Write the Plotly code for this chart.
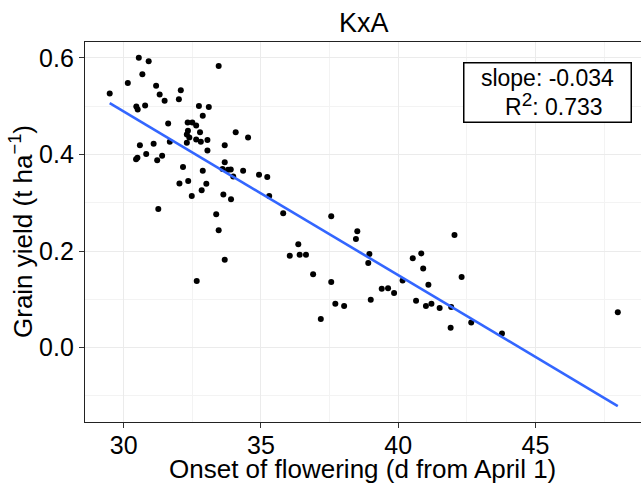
import plotly.graph_objects as go

# Onset of flowering (d from April 1) and grain yield (t ha-1)
onset = [29.49, 30.55, 30.91, 30.68, 30.15, 33.46, 31.18, 32.08, 31.31, 31.49,
         32.01, 30.46, 30.51, 30.78, 32.74, 33.10, 32.88, 31.62, 32.33, 32.50,
         32.64, 32.34, 32.78, 32.30, 34.08, 34.53, 32.39, 32.64, 32.81, 33.05,
         31.68, 32.30, 31.09, 30.59, 33.68, 33.05, 30.82, 31.40, 30.50, 30.45,
         31.22, 32.16, 33.68, 32.88, 33.60, 33.80, 33.90, 34.35,
         33.99, 34.93, 35.23, 32.03, 32.35, 33.01, 32.84, 32.48, 33.63, 33.91,
         31.26, 33.37, 33.46, 33.68, 32.66,
         35.30, 35.81, 37.56, 38.51, 38.46, 36.36, 36.05, 36.41, 36.64, 38.95,
         38.91, 36.90, 37.56, 40.53, 40.84, 40.91, 40.16, 41.10, 39.40, 39.63,
         39.85, 39.00, 37.71, 38.03, 40.65, 41.01, 41.21, 41.51, 41.93, 42.05,
         42.31, 37.18,
         41.91, 42.66, 43.78, 48.00]
grain_yield = [0.526, 0.600, 0.593, 0.566, 0.548, 0.583, 0.542, 0.533, 0.524, 0.511,
               0.514, 0.499, 0.493, 0.501, 0.500, 0.498, 0.480, 0.464, 0.466, 0.466,
               0.460, 0.449, 0.446, 0.441, 0.446, 0.435, 0.435, 0.431, 0.426, 0.430,
               0.426, 0.424, 0.422, 0.419, 0.419, 0.408, 0.401, 0.397, 0.393, 0.390,
               0.388, 0.374, 0.384, 0.366, 0.370, 0.368, 0.369, 0.366,
               0.354, 0.358, 0.353, 0.340, 0.345, 0.339, 0.326, 0.314, 0.317, 0.307,
               0.287, 0.276, 0.243, 0.182, 0.138,
               0.314, 0.278, 0.272, 0.241, 0.225, 0.214, 0.190, 0.192, 0.192, 0.194,
               0.175, 0.152, 0.136, 0.185, 0.195, 0.164, 0.139, 0.130, 0.122, 0.123,
               0.113, 0.099, 0.091, 0.086, 0.097, 0.086, 0.091, 0.082, 0.084, 0.233,
               0.146, 0.059,
               0.041, 0.052, 0.029, 0.073]

# Fitted regression line end points
fit_x = [29.49, 48.0]
fit_y = [0.506, -0.121]

slope_label = "-0.034"
r2_label = "0.733"

x_ticks = [30, 35, 40, 45]
y_ticks = [0.0, 0.2, 0.4, 0.6]
y_ticktext = ["0.0", "0.2", "0.4", "0.6"]

FONT = "Liberation Sans, Arial, sans-serif"
W, H = 641, 485
L, R, T, B = 85, 0, 42, 63
PW, PH = W - L - R, H - T - B

fig = go.Figure()
fig.add_trace(go.Scatter(x=onset, y=grain_yield, mode="markers",
                         marker=dict(color="black", size=6), showlegend=False))
fig.add_trace(go.Scatter(x=fit_x, y=fit_y, mode="lines",
                         line=dict(color="#3366FF", width=2.6), showlegend=False))

fig.update_layout(
    width=W, height=H,
    margin=dict(l=L, r=R, t=T, b=B, pad=0),
    plot_bgcolor="white", paper_bgcolor="white",
    font=dict(family=FONT, color="black"),
    xaxis=dict(range=[28.59, 48.845], tickmode="array", tickvals=x_ticks,
               tickfont=dict(size=25, color="black"),
               showgrid=True, gridcolor="#EBEBEB", gridwidth=1,
               minor=dict(showgrid=True, gridcolor="#F3F3F3", gridwidth=0.6,
                          dtick=2.5, tick0=0),
               showline=True, linecolor="#222222", linewidth=1.3, mirror=True,
               ticks="outside", ticklen=5, tickcolor="#333333", tickwidth=1.1,
               ticklabelstandoff=-4,
               zeroline=False, automargin=False),
    yaxis=dict(range=[-0.154, 0.6327], tickmode="array", tickvals=y_ticks,
               ticktext=y_ticktext,
               tickfont=dict(size=25, color="black"),
               showgrid=True, gridcolor="#EBEBEB", gridwidth=1,
               minor=dict(showgrid=True, gridcolor="#F3F3F3", gridwidth=0.6,
                          dtick=0.1, tick0=0),
               showline=True, linecolor="#222222", linewidth=1.3, mirror=False,
               ticks="outside", ticklen=5, tickcolor="#333333", tickwidth=1.1,
               zeroline=False, automargin=False),
)

# title
fig.add_annotation(text="KxA", xref="paper", yref="paper",
                   x=(364 - L) / PW, y=1 + (T - 23) / PH,
                   xanchor="center", yanchor="middle", showarrow=False,
                   font=dict(size=27, color="black", family=FONT))
# x-axis title
fig.add_annotation(text="Onset of flowering (d from April 1)", xref="paper", yref="paper",
                   x=(362 - L) / PW, y=-(469 - (T + PH)) / PH,
                   xanchor="center", yanchor="middle", showarrow=False,
                   font=dict(size=26, color="black", family=FONT))
# y-axis title
fig.add_annotation(text="Grain yield (t ha<sup>\u22121</sup>)", xref="paper", yref="paper",
                   x=(21 - L) / PW, y=0.5, textangle=-90,
                   xanchor="center", yanchor="middle", showarrow=False,
                   font=dict(size=26, color="black", family=FONT))
# slope / R2 box
fig.add_annotation(text=(f"slope: {slope_label}<br>&nbsp;&nbsp;R<sup><span style='font-size:19px'>2</span></sup>: {r2_label}"),
                   xref="paper", yref="paper",
                   x=(547 - L) / PW, y=(T + PH - 92.7) / PH,
                   xanchor="center", yanchor="middle", showarrow=False,
                   align="center", width=164, height=56, borderpad=1,
                   bordercolor="black", borderwidth=1.5, bgcolor="white",
                   font=dict(size=23, color="black", family=FONT))

fig.write_html("out.html",
               config={"displayModeBar": False},
               post_script="document.body.style.margin='0';document.body.style.padding='0';")
